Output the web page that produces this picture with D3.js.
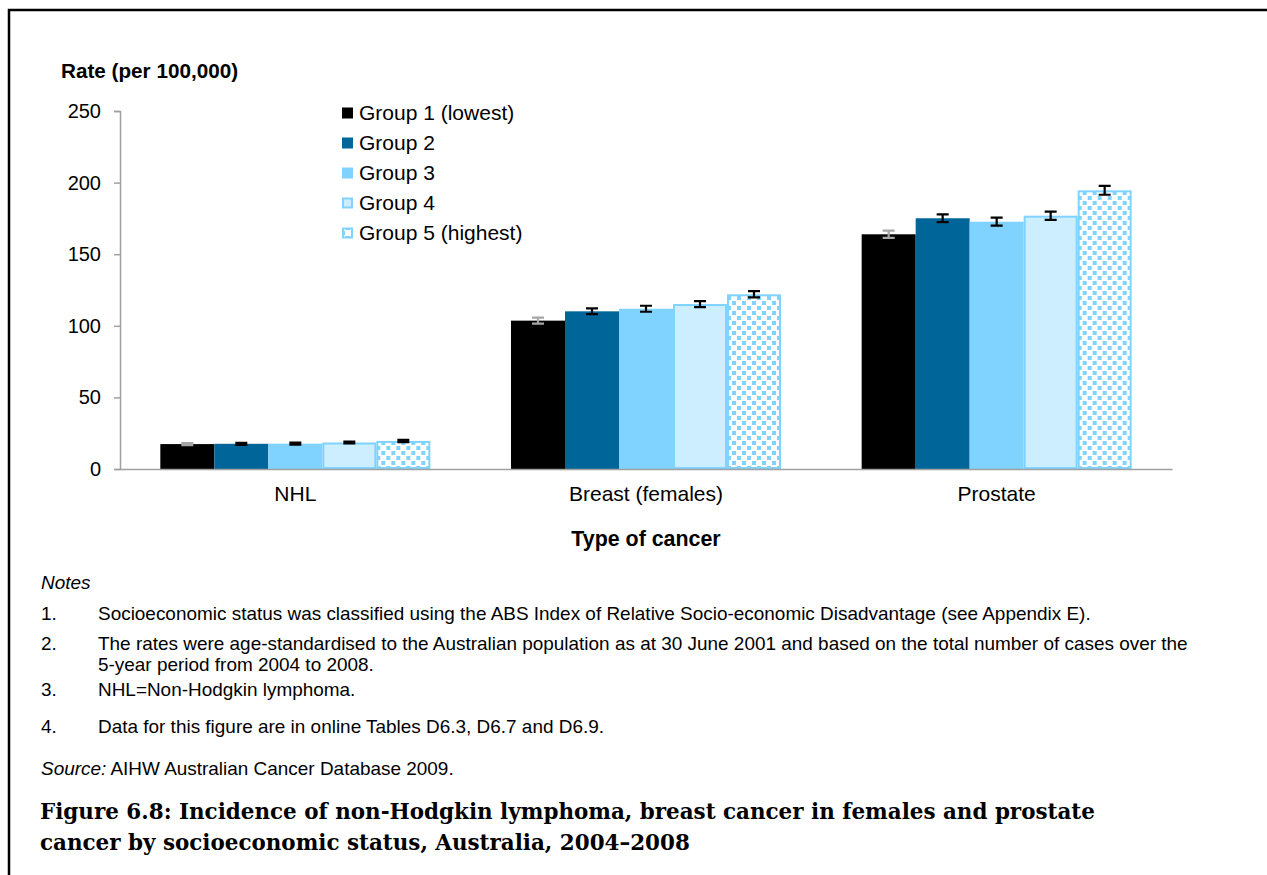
<!DOCTYPE html>
<html><head><meta charset="utf-8">
<script src="https://cdn.jsdelivr.net/npm/d3@7"></script>
<style>body{margin:0;background:#fff}svg{display:block}</style>
</head><body>
<svg id="c" width="1267" height="875" font-family="Liberation Sans, Arial, sans-serif"></svg>
<script>
const categories = ["NHL", "Breast (females)", "Prostate"];
const groups = ["Group 1 (lowest)", "Group 2", "Group 3", "Group 4", "Group 5 (highest)"];
const rates = [
  [17.4, 17.6, 17.7, 18.5, 19.6],
  [103.6, 110.1, 111.9, 115.2, 122.0],
  [163.9, 175.1, 172.7, 176.9, 194.6]
];
const errors = [
  [0.7, 0.7, 0.7, 0.7, 0.8],
  [2.1, 2.0, 2.1, 2.1, 2.2],
  [2.5, 2.7, 2.8, 2.9, 3.1]
];
const yTicks = [0, 50, 100, 150, 200, 250];
const notes = [
  ["1.", ["Socioeconomic status was classified using the ABS Index of Relative Socio-economic Disadvantage (see Appendix E)."]],
  ["2.", ["The rates were age-standardised to the Australian population as at 30 June 2001 and based on the total number of cases over the", "5-year period from 2004 to 2008."]],
  ["3.", ["NHL=Non-Hodgkin lymphoma."]],
  ["4.", ["Data for this figure are in online Tables D6.3, D6.7 and D6.9."]]
];
const titleLines = ["Figure 6.8: Incidence of non-Hodgkin lymphoma, breast cancer in females and prostate", "cancer by socioeconomic status, Australia, 2004\u20132008"];

const svg = d3.select("#c");
const fills = ["#000000", "#006699", "#80d3fe", "#cdeeff", "url(#dots)"];
const strokes = ["none", "none", "none", "#80d3fe", "#80d3fe"];
const errCol = ["#a6a6a6", "#000", "#000", "#000", "#000"];

const defs = svg.append("defs");
const pat = defs.append("pattern").attr("id", "dots").attr("patternUnits", "userSpaceOnUse")
  .attr("width", 10).attr("height", 10);
pat.append("rect").attr("width", 10).attr("height", 10).attr("fill", "#fff");
pat.append("rect").attr("x", 1).attr("y", 1).attr("width", 4).attr("height", 4).attr("fill", "#80d3fe");
pat.append("rect").attr("x", 6).attr("y", 6).attr("width", 4).attr("height", 4).attr("fill", "#80d3fe");

// frame
svg.append("path").attr("d", "M9,875V10H1267").attr("fill", "none").attr("stroke", "#000").attr("stroke-width", 2.5);

const x0 = d3.scaleBand().domain(categories).range([120, 1172]).paddingInner(0.23).paddingOuter(0.115);
const x1 = d3.scaleBand().domain(groups).range([0, x0.bandwidth()]);
const y = d3.scaleLinear().domain([0, 250]).range([469, 111]);

// y axis
const ya = svg.append("g").attr("transform", "translate(120,0)")
  .call(d3.axisLeft(y).tickValues(yTicks).tickSize(6).tickPadding(13));
ya.attr("font-family", null).attr("font-size", null);
ya.select(".domain").attr("stroke", "#a0a0a0").attr("stroke-width", 1.5);
ya.selectAll(".tick line").attr("stroke", "#a0a0a0").attr("stroke-width", 1.5);
ya.selectAll(".tick text").attr("font-size", 20).attr("fill", "#000");

// bars
const gcat = svg.selectAll("g.cat").data(categories).join("g").attr("class", "cat")
  .attr("transform", d => `translate(${x0(d)},0)`);
gcat.each(function(c, ci) {
  const g = d3.select(this);
  groups.forEach((grp, gi) => {
    const v = rates[ci][gi];
    const sw = strokes[gi] === "none" ? 0 : 2;
    g.append("rect")
      .attr("x", x1(grp) + sw / 2).attr("y", y(v) + sw / 2)
      .attr("width", x1.bandwidth() - sw).attr("height", y(0) - y(v) - sw)
      .attr("fill", fills[gi]).attr("stroke", strokes[gi]).attr("stroke-width", sw);
  });
  groups.forEach((grp, gi) => {
    const v = rates[ci][gi], e = errors[ci][gi];
    const cx = x1(grp) + x1.bandwidth() / 2;
    const p = d3.path();
    p.moveTo(cx, y(v + e)); p.lineTo(cx, y(v - e));
    p.moveTo(cx - 6, y(v + e)); p.lineTo(cx + 6, y(v + e));
    p.moveTo(cx - 6, y(v - e)); p.lineTo(cx + 6, y(v - e));
    g.append("path").attr("d", p.toString()).attr("stroke", errCol[gi]).attr("stroke-width", 2.2).attr("fill", "none");
  });
});

// x axis
const xa = svg.append("g").attr("transform", "translate(0,469)")
  .call(d3.axisBottom(x0).tickSize(0).tickPadding(17));
xa.attr("font-family", null).attr("font-size", null);
xa.select(".domain").attr("stroke", "#a0a0a0").attr("stroke-width", 1.5);
xa.selectAll(".tick text").attr("font-size", 21).attr("fill", "#000");

// axis titles
svg.append("text").attr("x", 61).attr("y", 71).attr("dy", "0.35em").attr("font-size", 20.7).attr("font-weight", "bold").text("Rate (per 100,000)");
svg.append("text").attr("x", 646).attr("y", 539).attr("dy", "0.35em").attr("text-anchor", "middle").attr("font-size", 21.4).attr("font-weight", "bold").text("Type of cancer");

// legend
const leg = svg.append("g");
groups.forEach((grp, gi) => {
  const cy = 113 + gi * 30;
  const sw = strokes[gi] === "none" ? 0 : 2;
  leg.append("rect").attr("x", 342 + sw / 2).attr("y", cy - 5.5 + sw / 2).attr("width", 11 - sw).attr("height", 11 - sw)
    .attr("fill", fills[gi]).attr("stroke", strokes[gi]).attr("stroke-width", sw);
  leg.append("text").attr("x", 359).attr("y", cy).attr("dy", "0.35em").attr("font-size", 21).text(grp);
});

function fitSize(sel, w) {
  const len = sel.node().getComputedTextLength();
  const fs = parseFloat(sel.attr("font-size"));
  return fs * w / len;
}

// notes
const noteTexts = [];
noteTexts.push(svg.append("text").attr("x", 41).attr("y", 582).attr("dy", "0.35em").attr("font-size", 16).attr("font-style", "italic").text("Notes"));
const noteY = [[613], [643, 664], [689], [726]];
const bodyLines = [];
notes.forEach((n, i) => {
  noteTexts.push(svg.append("text").attr("x", 41).attr("y", noteY[i][0]).attr("dy", "0.35em").attr("font-size", 16).text(n[0]));
  n[1].forEach((line, j) => {
    const t = svg.append("text").attr("x", 98).attr("y", noteY[i][j]).attr("dy", "0.35em").attr("font-size", 16).text(line);
    noteTexts.push(t);
    bodyLines.push(t);
  });
});
const src = svg.append("text").attr("x", 41).attr("y", 768).attr("dy", "0.35em").attr("font-size", 16);
src.append("tspan").attr("font-style", "italic").text("Source:");
src.append("tspan").text(" AIHW Australian Cancer Database 2009.");
noteTexts.push(src);
const nfs = ((fitSize(bodyLines[0], 1008) + fitSize(bodyLines[1], 1074)) / 2).toFixed(2);
noteTexts.forEach(t => t.attr("font-size", nfs));

const tl = [811, 842];
const tts = titleLines.map((line, i) => svg.append("text").attr("x", 40).attr("y", tl[i]).attr("dy", "0.35em")
    .attr("font-family", "DejaVu Serif, serif").attr("font-weight", "bold").attr("font-size", 22).text(line));
const tfs = fitSize(tts[0], 1055).toFixed(2);
tts.forEach(t => t.attr("font-size", tfs));
</script>
</body></html>
